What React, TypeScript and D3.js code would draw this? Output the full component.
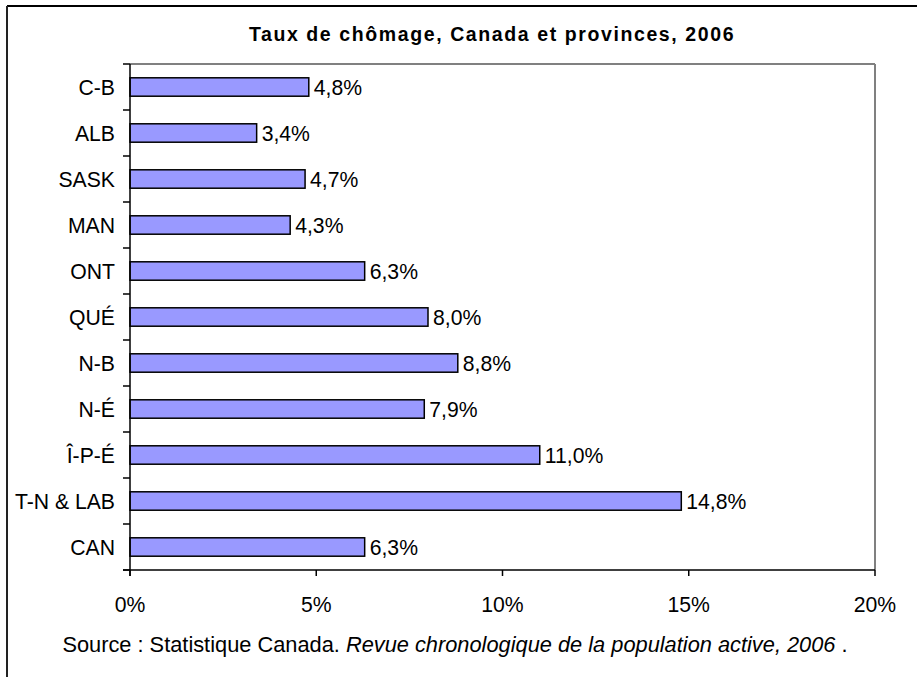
import React from "react";
import * as d3 from "d3";

const categories = ["C-B", "ALB", "SASK", "MAN", "ONT", "QUÉ", "N-B", "N-É", "Î-P-É", "T-N & LAB", "CAN"];
const values = [4.8, 3.4, 4.7, 4.3, 6.3, 8.0, 8.8, 7.9, 11.0, 14.8, 6.3];
const xTicks = [0, 5, 10, 15, 20];
const title = "Taux de chômage, Canada et provinces, 2006";

const W = 917;
const H = 677;
const plot = { left: 130, right: 875, top: 64, bottom: 570 };
const font = "'Liberation Sans', Arial, sans-serif";
const fs = 21.2;

export default function App() {
  const x = d3.scaleLinear().domain([0, 20]).range([plot.left, plot.right]);
  const y = d3
    .scaleBand<string>()
    .domain(categories)
    .range([plot.top, plot.bottom])
    .paddingInner(0.6)
    .paddingOuter(0.3);
  const step = y.step();
  const fmt = (v: number) => v.toFixed(1).replace(".", ",") + "%";

  return (
    <div style={{ position: "fixed", left: 0, top: 0, width: W, height: H, background: "#fff" }}>
      <svg width={W} height={H} style={{ display: "block" }}>
        <rect x={0} y={0} width={W} height={H} fill="#fff" />
        {/* outer frame */}
        <line x1={7} y1={6} x2={W} y2={6} stroke="#000" strokeWidth={2} />
        <line x1={7} y1={6} x2={7} y2={H} stroke="#222" strokeWidth={2} />
        {/* title */}
        <text x={492} y={41} textAnchor="middle" fontFamily={font} fontWeight="bold" fontSize={19.5} letterSpacing={1.6}>
          {title}
        </text>
        {/* plot area frame */}
        <line x1={plot.left} y1={plot.top} x2={plot.right} y2={plot.top} stroke="#808080" strokeWidth={2} />
        <line x1={plot.right} y1={plot.top} x2={plot.right} y2={plot.bottom} stroke="#808080" strokeWidth={2} />
        {/* bars */}
        {categories.map((c, i) => (
          <g key={c}>
            <rect
              x={x(0)}
              y={y(c)!}
              width={x(values[i]) - x(0)}
              height={y.bandwidth()}
              fill="#9999FF"
              stroke="#000"
              strokeWidth={1.5}
            />
            <text
              x={x(values[i]) + 5}
              y={y(c)! + y.bandwidth() / 2 + 7.5}
              fontFamily={font}
              fontSize={fs}
            >
              {fmt(values[i])}
            </text>
            <text
              x={plot.left - 15}
              y={y(c)! + y.bandwidth() / 2 + 7.5}
              fontFamily={font}
              fontSize={fs}
              textAnchor="end"
            >
              {c}
            </text>
          </g>
        ))}
        {/* y axis */}
        <line x1={plot.left} y1={plot.top} x2={plot.left} y2={plot.bottom + 6} stroke="#000" strokeWidth={1.5} />
        {d3.range(categories.length + 1).map((k) => (
          <line
            key={k}
            x1={plot.left - 7}
            x2={plot.left}
            y1={plot.top + k * step}
            y2={plot.top + k * step}
            stroke="#000"
            strokeWidth={1.5}
          />
        ))}
        {/* x axis */}
        <line x1={plot.left - 7} y1={plot.bottom} x2={plot.right} y2={plot.bottom} stroke="#000" strokeWidth={1.5} />
        {xTicks.map((t) => (
          <g key={t}>
            <line x1={x(t)} x2={x(t)} y1={plot.bottom} y2={plot.bottom + 6} stroke="#000" strokeWidth={1.5} />
            <text x={x(t)} y={612} textAnchor="middle" fontFamily={font} fontSize={fs}>
              {t + "%"}
            </text>
          </g>
        ))}
        {/* source */}
        <text x={455} y={652} textAnchor="middle" fontFamily={font} fontSize={21.8}>
          <tspan>Source : Statistique Canada. </tspan>
          <tspan fontStyle="italic">Revue chronologique de la population active, 2006</tspan>
          <tspan> .</tspan>
        </text>
      </svg>
    </div>
  );
}
